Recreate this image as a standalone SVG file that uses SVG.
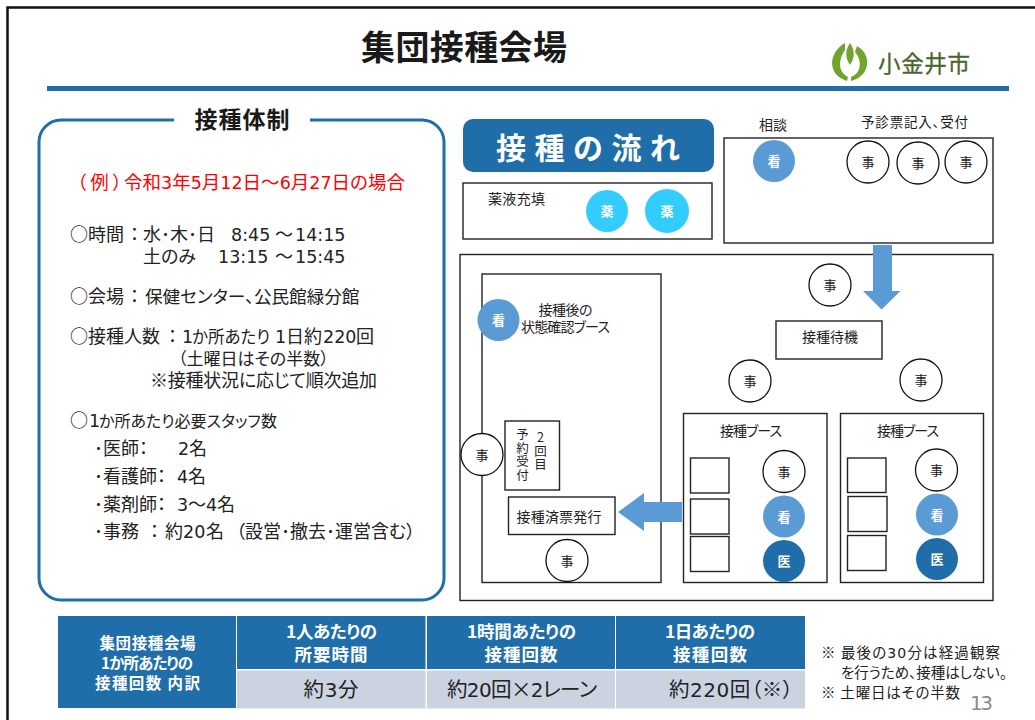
<svg xmlns="http://www.w3.org/2000/svg" width="1035" height="720" viewBox="0 0 1035 720">
<defs><style>
text{font-family:"Noto Sans CJK JP","Liberation Sans",sans-serif;fill:#1a1a1a;font-feature-settings:"palt"}
.dg{font-family:"DejaVu Sans","Liberation Sans",sans-serif}
.c{text-anchor:middle}
.b{font-weight:700}
.body{font-size:18px;fill:#222}
.lab{font-size:14px;fill:#222}
.vt{font-size:12.500px;fill:#222;text-anchor:middle}
.box{fill:#fff;stroke:#222;stroke-width:1.4}
.staff{fill:#fff;stroke:#111;stroke-width:1.3}
.kan{fill:#5b9bd5}
.yak{fill:#33ccff}
.doc{fill:#1f6eaa}
.wt{font-size:13px;font-weight:700;fill:#fff;text-anchor:middle}
.jt{font-size:13px;fill:#222;text-anchor:middle}
.arrow{fill:#5b9bd5}
.hd{fill:#1f6eaa}
.val{fill:#cbd3e1}
.th{font-size:17.500px;font-weight:700;fill:#fff;text-anchor:middle}
.td{font-size:20.500px;fill:#222}
.th1{font-size:15.500px;font-weight:700;fill:#fff;text-anchor:middle}
.note{font-size:14.500px;fill:#222}
.logo{fill:#6fa52f}
</style></defs>
<rect width="1035" height="720" fill="#fff"/>
<path d="M7.500 720V7.500H1035" fill="none" stroke="#111" stroke-width="2.500"/>
<text id="title" x="464" y="60" class="c b" font-size="34" fill="#111" textLength="206">集団接種会場</text>
<g id="logo">
<path class="logo" d="M845 43C829 52 826 74 847 81L848 77C838 72 838 60 845 50Z"/>
<path class="logo" d="M857 46C872 54 871 76 851 81L851 77C862 73 862 60 855 52Z"/>
<path class="logo" d="M850 43C845 50 845 58 850 65C855 58 855 50 850 43Z"/>
<text x="878" y="71.500" font-size="22.500" style="fill:#4a6630;stroke:#4a6630;stroke-width:.35" textLength="92">小金井市</text>
</g>
<rect x="47" y="86" width="962" height="5" fill="#1f6eaa"/>

<g id="panel-taisei">
<path d="M174 120H61A22 22 0 0 0 39 142V578A22 22 0 0 0 61 600H422A22 22 0 0 0 444 578V142A22 22 0 0 0 422 120H310" fill="none" stroke="#1f6eaa" stroke-width="3"/>
<text x="242" y="128" class="c b" font-size="23" textLength="95">接種体制</text>
<text y="189" font-size="18.500" style="fill:#ff0000"><tspan x="77" letter-spacing="4">（例）</tspan><tspan x="124">令和<tspan class="dg" font-size="17.500">3</tspan>年<tspan class="dg" font-size="17.500">5</tspan>月<tspan class="dg" font-size="17.500">12</tspan>日～<tspan class="dg" font-size="17.500">6</tspan>月<tspan class="dg" font-size="17.500">27</tspan>日の場合</tspan></text>
<text class="body" y="241"><tspan x="70">○</tspan><tspan x="88">時間</tspan><tspan x="130">：</tspan><tspan x="143">水･木･日</tspan><tspan x="231" class="dg" font-size="17.500">8:45</tspan><tspan x="275">～</tspan><tspan x="295" class="dg" font-size="17.500">14:15</tspan></text>
<text class="body" y="263"><tspan x="143">土のみ</tspan><tspan x="218" class="dg" font-size="17.500">13:15</tspan><tspan x="275">～</tspan><tspan x="295" class="dg" font-size="17.500">15:45</tspan></text>
<text class="body" y="303"><tspan x="70">○</tspan><tspan x="88">会場</tspan><tspan x="130">：</tspan><tspan x="145" font-size="17.600">保健センター、公民館緑分館</tspan></text>
<text class="body" y="343"><tspan x="70">○</tspan><tspan x="88">接種人数</tspan><tspan x="168">：</tspan><tspan x="182" class="dg" font-size="17.500">1</tspan><tspan x="192" font-size="16.500">か所あたり</tspan><tspan x="275" class="dg" font-size="17.500">1</tspan><tspan x="286">日約</tspan><tspan x="323" class="dg" font-size="17.500">220</tspan><tspan x="356">回</tspan></text>
<text class="body" y="365"><tspan x="178" font-size="17">（土曜日はその半数）</tspan></text>
<text class="body" x="150" y="387" textLength="227">※接種状況に応じて順次追加</text>
<text class="body" y="427"><tspan x="70">○</tspan><tspan x="89" class="dg" font-size="17.500">1</tspan><tspan x="99" font-size="16">か所あたり必要スタッフ数</tspan></text>
<text class="body" y="455"><tspan x="94">･医師：</tspan><tspan x="178" class="dg" font-size="17.500">2</tspan><tspan x="189">名</tspan></text>
<text class="body" y="483"><tspan x="94">･看護師：</tspan><tspan x="177" class="dg" font-size="17.500">4</tspan><tspan x="188">名</tspan></text>
<text class="body" y="511"><tspan x="94">･薬剤師：</tspan><tspan x="177" class="dg" font-size="17.500">3</tspan><tspan x="188">～</tspan><tspan x="206" class="dg" font-size="17.500">4</tspan><tspan x="217">名</tspan></text>
<text class="body" y="538"><tspan x="94">･事務</tspan><tspan x="150">：</tspan><tspan x="165">約</tspan><tspan x="183" class="dg" font-size="17.500">20</tspan><tspan x="206">名</tspan><tspan x="236">（設営･撤去･運営含む）</tspan></text>
</g>

<g id="flow-header">
<rect x="463" y="119" width="251" height="53" rx="10" fill="#1f6eaa"/>
<text x="496" y="159" class="b" font-size="30" style="fill:#fff;font-feature-settings:normal" textLength="184">接種の流れ</text>
</g>

<g id="node-yakueki">
<rect class="box" x="463" y="183" width="249" height="56"/>
<text class="lab" x="488" y="204" textLength="57">薬液充填</text>
<circle class="yak" cx="607" cy="211" r="21"/><text class="wt" x="607" y="216">薬</text>
<circle class="yak" cx="667" cy="211" r="22"/><text class="wt" x="667" y="216">薬</text>
</g>

<g id="node-soudan">
<rect class="box" x="724" y="138" width="269" height="105"/>
<text class="lab c" x="773" y="130">相談</text>
<text x="914.500" y="127" class="c" font-size="13.500" fill="#222" textLength="107">予診票記入、受付</text>
<circle class="kan" cx="774" cy="161" r="21"/><text class="wt" x="774" y="166">看</text>
<circle class="staff" cx="868" cy="162" r="21"/><text class="jt" x="868" y="167">事</text>
<circle class="staff" cx="918" cy="163" r="21"/><text class="jt" x="918" y="168">事</text>
<circle class="staff" cx="966" cy="162" r="21"/><text class="jt" x="966" y="167">事</text>
</g>

<g id="node-main">
<rect class="box" x="460" y="254.500" width="533" height="346"/>
</g>

<g id="node-taiki">
<circle class="staff" cx="830" cy="285" r="21"/><text class="jt" x="830" y="290">事</text>
<rect class="box" x="776" y="321" width="106" height="38"/>
<text class="lab c" x="830" y="342" textLength="56">接種待機</text>
<circle class="staff" cx="750" cy="381" r="21"/><text class="jt" x="750" y="386">事</text>
<circle class="staff" cx="921" cy="380" r="21"/><text class="jt" x="921" y="385">事</text>
</g>

<g id="node-kakunin">
<rect class="box" x="482" y="274" width="179" height="308.500"/>
<circle class="kan" cx="498.500" cy="320" r="21"/><text class="wt" x="498.500" y="325">看</text>
<text class="lab c" x="565.500" y="315" textLength="54">接種後の</text>
<text class="lab c" x="565.500" y="332" textLength="89">状態確認ブース</text>
<circle class="staff" cx="482" cy="454.500" r="21"/><text class="jt" x="482" y="459.500">事</text>
<rect class="box" x="505" y="421" width="54.500" height="69"/>
<text class="vt"><tspan x="522.500" y="439">予</tspan><tspan x="522.500" y="452.500">約</tspan><tspan x="522.500" y="466">受</tspan><tspan x="522.500" y="479.500">付</tspan></text>
<text class="vt"><tspan x="540.500" y="442">2</tspan><tspan x="540.500" y="456">回</tspan><tspan x="540.500" y="469">目</tspan></text>
<rect class="box" x="508.500" y="497" width="106.500" height="37.500"/>
<text class="lab c" x="559" y="522" textLength="85">接種済票発行</text>
<circle class="staff" cx="567" cy="560.500" r="21"/><text class="jt" x="567" y="565.500">事</text>
</g>

<g id="node-booth1">
<rect class="box" x="683.500" y="413.500" width="143.500" height="169"/>
<text class="lab c" x="751" y="436" textLength="62">接種ブース</text>
<rect class="box" x="690.500" y="458" width="38.500" height="35"/>
<rect class="box" x="690.500" y="499" width="38.500" height="35"/>
<rect class="box" x="690.500" y="536.500" width="38.500" height="35"/>
<circle class="staff" cx="784" cy="471.500" r="21"/><text class="jt" x="784" y="476.500">事</text>
<circle class="kan" cx="784" cy="516.500" r="21"/><text class="wt" x="784" y="521.500">看</text>
<circle class="doc" cx="784" cy="561" r="21"/><text class="wt" x="784" y="566">医</text>
</g>

<g id="node-booth2">
<rect class="box" x="840.500" y="413.500" width="143" height="169"/>
<text class="lab c" x="908" y="436" textLength="62">接種ブース</text>
<rect class="box" x="847.500" y="458" width="38.500" height="34.500"/>
<rect class="box" x="848" y="496.500" width="39" height="35"/>
<rect class="box" x="847.500" y="535.500" width="38.500" height="35"/>
<circle class="staff" cx="936.500" cy="470" r="21"/><text class="jt" x="936.500" y="475">事</text>
<circle class="kan" cx="937" cy="514.500" r="21"/><text class="wt" x="937" y="519.500">看</text>
<circle class="doc" cx="937" cy="559" r="21"/><text class="wt" x="937" y="564">医</text>
</g>

<g id="connectors">
<polygon class="arrow" points="873,245 892,245 892,291 900.500,291 881.500,309.500 863,291 873,291"/>
<polygon class="arrow" points="682,502 644,502 644,493 618,512 644,531 644,522 682,522"/>
</g>

<g id="table">
<rect class="hd" x="58" y="616" width="178" height="92"/>
<rect class="hd" x="237" y="616" width="188.500" height="53"/>
<rect class="hd" x="427" y="616" width="188" height="53"/>
<rect class="hd" x="616" y="616" width="189" height="53"/>
<rect class="val" x="237" y="670.500" width="188.500" height="38"/>
<rect class="val" x="427" y="670.500" width="188" height="38"/>
<rect class="val" x="616" y="670.500" width="189" height="38"/>
<text class="th1" x="147.500" y="649" textLength="96">集団接種会場</text>
<text class="th1" x="147" y="669" textLength="92">1か所あたりの</text>
<text class="th1" x="147.500" y="689" textLength="105">接種回数 内訳</text>
<text class="th" x="331.500" y="638" textLength="91">1人あたりの</text>
<text class="th" x="331" y="661" textLength="73">所要時間</text>
<text class="th" x="521.500" y="638" textLength="109">1時間あたりの</text>
<text class="th" x="521" y="661" textLength="73">接種回数</text>
<text class="th" x="710" y="638" textLength="90">1日あたりの</text>
<text class="th" x="710" y="661" textLength="74">接種回数</text>
<text class="td c" x="331" y="697" textLength="55">約<tspan class="dg" font-size="20">3</tspan>分</text>
<text class="td" x="447" y="697" textLength="150">約<tspan class="dg" font-size="20">20</tspan>回×<tspan class="dg" font-size="20">2</tspan>レーン</text>
<text class="td" x="669" y="697" textLength="124">約<tspan class="dg" font-size="20">220</tspan>回（※）</text>
</g>

<g id="notes">
<text class="note" x="821" y="658" textLength="179">※ 最後の<tspan class="dg" font-size="14">30</tspan>分は経過観察</text>
<text class="note" x="841" y="678" textLength="166">を行うため、接種はしない。</text>
<text class="note" x="821" y="698" textLength="139">※ 土曜日はその半数</text>
<text x="970" y="710" font-size="20" class="dg" style="fill:#8a8a8a" textLength="23">13</text>
</g>
</svg>
